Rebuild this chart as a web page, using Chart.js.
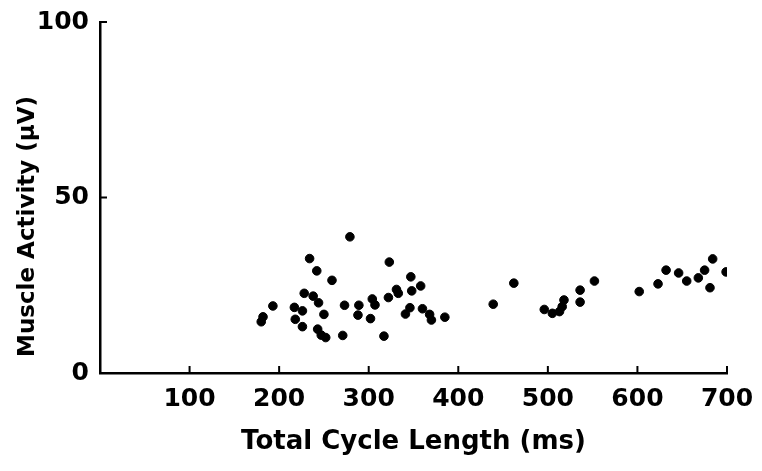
<!DOCTYPE html>
<html>
<head>
<meta charset="utf-8">
<script src="https://cdn.jsdelivr.net/npm/chart.js@4"></script>
<style>
  html, body { margin: 0; padding: 0; background: #fff; }
  #wrap { width: 762px; height: 471px; }
</style>
</head>
<body>
<div id="wrap"><canvas id="scatter"></canvas></div>
<script>
// values
let cycleLength = [279, 234, 242, 259, 323, 228, 238, 244, 193, 217, 226, 250, 273, 289, 304, 307, 322, 182, 180, 218, 226, 288, 302, 243, 247, 252, 271, 317,
    347, 331, 333, 348, 358, 346, 341, 360, 368, 370, 385, 462, 439, 496, 505, 513, 518, 516, 536, 536,
    552, 602, 623, 632, 646, 655, 668, 675, 684, 681, 699];
let muscleActivity = [38.8, 32.6, 29.1, 26.4, 31.6, 22.7, 21.9, 20.0, 19.1, 18.7, 17.7, 16.7, 19.3, 19.3, 21.1, 19.4, 21.5, 16.0, 14.6, 15.3, 13.2, 16.5, 15.5, 12.5, 10.8, 10.1, 10.7, 10.5,
    27.4, 23.8, 22.7, 23.4, 24.8, 18.6, 16.8, 18.3, 16.7, 15.1, 15.9, 25.6, 19.6, 18.1, 17.0, 17.5, 20.8, 18.9, 23.6, 20.2,
    26.2, 23.2, 25.4, 29.3, 28.5, 26.2, 27.1, 29.3, 32.5, 24.3, 28.8];
let xTicks = [100, 200, 300, 400, 500, 600, 700];
let yTicks = [0, 50, 100];

let points = cycleLength.map((x, i) => ({ x: x, y: muscleActivity[i] }));
let labelFont = { family: 'DejaVu Sans', size: 25, weight: 'bold' };

// short tick marks drawn inside the plot, like the original figure
let innerTicks = {
    id: 'innerTicks',
    afterDraw(chart) {
        let c = chart.ctx, xs = chart.scales.x, ys = chart.scales.y;
        c.save();
        c.strokeStyle = '#000';
        c.lineWidth = 2;
        c.beginPath();
        xTicks.forEach(v => {
            let px = xs.getPixelForValue(v);
            c.moveTo(px, ys.bottom);
            c.lineTo(px, ys.bottom - 7);
        });
        yTicks.forEach(v => {
            let py = ys.getPixelForValue(v);
            c.moveTo(xs.left, py);
            c.lineTo(xs.left + 7, py);
        });
        c.stroke();
        c.restore();
    }
};

let chart = new Chart(document.getElementById('scatter'), {
    type: 'scatter',
    data: {
        datasets: [{
            data: points,
            backgroundColor: '#000',
            borderColor: '#000',
            pointRadius: 4.3,
            pointHoverRadius: 4.3
        }]
    },
    options: {
        responsive: true,
        maintainAspectRatio: false,
        animation: false,
        layout: { padding: { left: 0, right: 35, top: 22, bottom: 0 } },
        plugins: { legend: { display: false }, tooltip: { enabled: false } },
        scales: {
            x: {
                type: 'linear',
                min: 0,
                max: 700,
                afterBuildTicks: s => { s.ticks = xTicks.map(v => ({ value: v })); },
                afterFit: s => { s.height = 98; s.paddingLeft = 0; s.paddingRight = 0; },
                ticks: { color: '#000', font: labelFont, padding: 11, maxRotation: 0 },
                grid: { display: true, drawOnChartArea: false, drawTicks: false, color: 'transparent' },
                border: { display: true, color: '#000', width: 2.5 },
                title: { display: true, text: 'Total Cycle Length (ms)', color: '#000',
                    font: { family: 'DejaVu Sans', size: 26, weight: 'bold' }, padding: { top: 0, bottom: 13 } }
            },
            y: {
                type: 'linear',
                min: 0,
                max: 100,
                afterBuildTicks: s => { s.ticks = yTicks.map(v => ({ value: v })); },
                afterFit: s => { s.width = 100; s.paddingTop = 0; s.paddingBottom = 0; },
                ticks: { color: '#000', font: labelFont, padding: 11 },
                grid: { display: true, drawOnChartArea: false, drawTicks: false, color: 'transparent' },
                border: { display: true, color: '#000', width: 2.5 },
                title: { display: true, align: 'start', text: '  Muscle Activity (µV)', color: '#000',
                    font: { family: 'DejaVu Sans', size: 23, weight: 'bold' }, padding: { top: 14, bottom: 0 } }
            }
        }
    },
    plugins: [innerTicks]
});
</script>
</body>
</html>
